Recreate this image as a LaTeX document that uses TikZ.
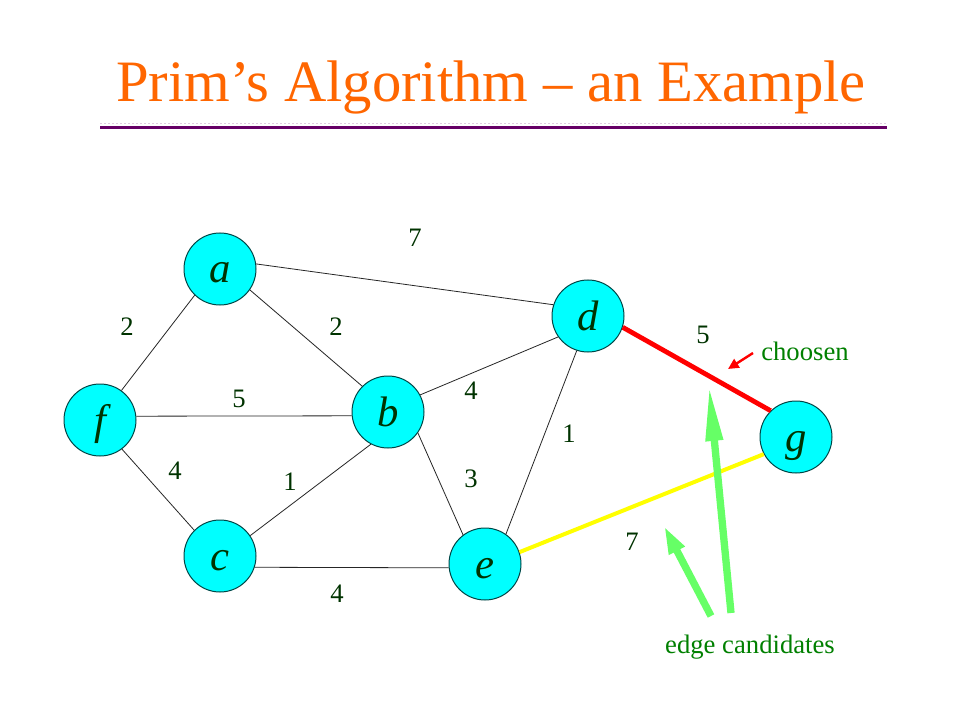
\documentclass[tikz,border=0pt]{standalone}
\usepackage{fontspec}
\setmainfont{Liberation Serif}
\usetikzlibrary{arrows.meta}
\definecolor{titleorange}{RGB}{255,102,0}
\definecolor{rulepurple}{RGB}{102,0,102}
\definecolor{nodecyan}{RGB}{0,255,255}
\definecolor{nodeline}{RGB}{0,70,70}
\definecolor{labelgreen}{RGB}{0,51,0}
\definecolor{notegreen}{RGB}{0,128,0}
\definecolor{arrowgreen}{RGB}{102,255,102}
\definecolor{chosenred}{RGB}{255,0,0}
\definecolor{candyellow}{RGB}{255,255,0}
\begin{document}
\begin{tikzpicture}[x=0.75pt,y=-0.75pt,
 vertex/.style={circle,fill=nodecyan,draw=nodeline,line width=0.75pt,minimum size=54pt,inner sep=0pt,
   font=\fontsize{32}{36}\selectfont\itshape,text=labelgreen,text height=22pt,text depth=1pt},
 weight/.style={font=\fontsize{20}{24}\selectfont,text=labelgreen,inner sep=0pt},
 edgeline/.style={draw=black!85,line width=0.6pt},
 note/.style={font=\fontsize{20}{24}\selectfont,text=notegreen,inner sep=0pt,anchor=base}]
\useasboundingbox (0,0) rectangle (960,720);
\fill[white] (0,0) rectangle (960,720);
% title
\node[font=\fontsize{44}{50}\selectfont,text=titleorange,anchor=base,inner sep=0pt] (title) at (491,102) {Prim’s Algorithm – an Example};
\coordinate (dl) at (100,124); \coordinate (dr) at (887,124);
\coordinate (rl) at (100,127.5); \coordinate (rr) at (887,127.5);
\draw[rulepurple!20,line width=0.75pt,dash pattern=on 1.5pt off 1.5pt] (dl) -- (dr);
\draw[rulepurple,line width=2.25pt] (rl) -- (rr);
% vertices
\node[vertex] (a) at (220,269) {a};
\node[vertex] (f) at (100,420) {f};
\node[vertex] (b) at (388,412) {b};
\node[vertex] (c) at (220,556) {c};
\node[vertex] (e) at (485,564) {e};
\node[vertex] (d) at (588,316) {d};
\node[vertex] (g) at (796,437) {g};
% edges
\draw[edgeline] (a.8) -- (d.162);
\draw[edgeline] (a.226) -- (f.54);
\draw[edgeline] (a.-35) -- (b.135);
\draw[edgeline] (f.6) -- (b.186);
\draw[edgeline] (b.28) -- (d.215);
\draw[edgeline] (b.-35) -- (e.127);
\draw[edgeline] (c.34) -- (b.242);
\draw[edgeline] (c.-18) -- (e.186);
\draw[edgeline] (f.-53) -- (c.135);
\draw[edgeline] (d.252) -- (e.55);
\draw[chosenred,line width=3.6pt] (d.-18) -- (g.134);
\draw[candyellow,line width=3pt] (e.19) -- (g.208);
% weights
\node[weight] (w1) at (415,238) {7};
\node[weight] (w2) at (127,327) {2};
\node[weight] (w3) at (336,327) {2};
\node[weight] (w4) at (239,399) {5};
\node[weight] (w5) at (471,391) {4};
\node[weight] (w6) at (569,434) {1};
\node[weight] (w7) at (175,471) {4};
\node[weight] (w8) at (290,482) {1};
\node[weight] (w9) at (471,479) {3};
\node[weight] (w10) at (337,594) {4};
\node[weight] (w11) at (703,335) {5};
\node[weight] (w12) at (632,542) {7};
% annotations
\node[note] (chosen) at (805,360) {choosen};
\node[note] (cand) at (750,653) {edge candidates};
\coordinate (rt) at (753,353); \coordinate (rh) at (728,369);
\draw[chosenred,line width=1.8pt,-{Triangle[length=8pt,width=7.5pt]}] (rt) -- (rh);
\coordinate (g1t) at (731,613); \coordinate (g1h) at (709,385);
\draw[arrowgreen,line width=5.5pt,-{Triangle[length=42pt,width=12pt]}] (g1t) -- (g1h);
\coordinate (g2t) at (711,616); \coordinate (g2h) at (664,526);
\draw[arrowgreen,line width=5.5pt,-{Triangle[length=21pt,width=12pt]}] (g2t) -- (g2h);
\end{tikzpicture}
\end{document}
